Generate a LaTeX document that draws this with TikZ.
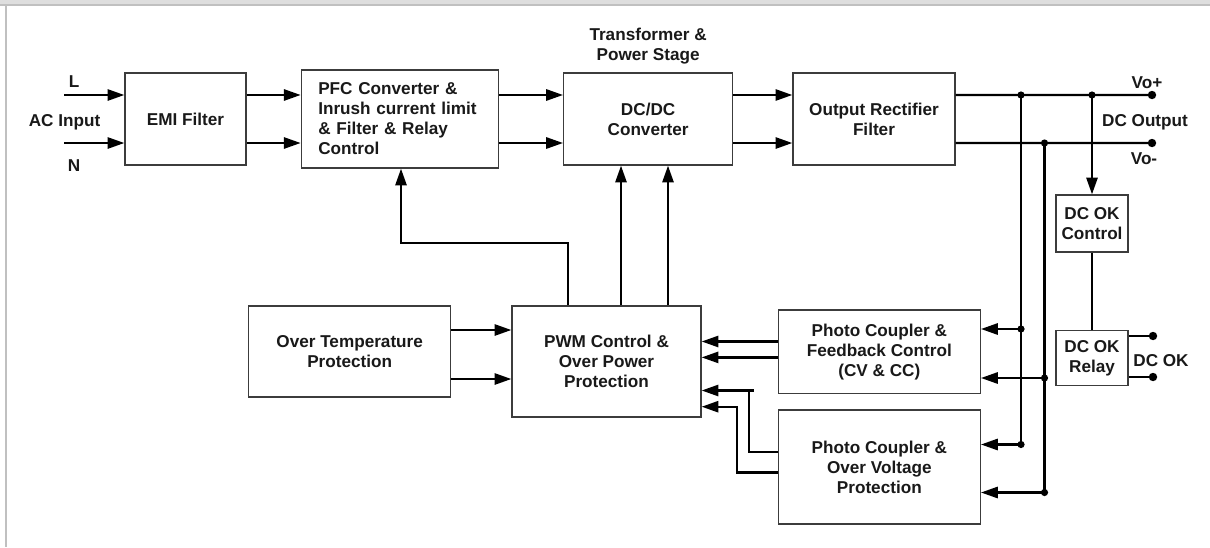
\documentclass[tikz,border=0pt]{standalone}
\usepackage{fontspec}
\setmainfont{Liberation Sans}
\usetikzlibrary{arrows.meta, positioning, calc}
\definecolor{framegray}{RGB}{222, 222, 222}
\definecolor{frameline}{RGB}{192, 192, 192}
\definecolor{boxgray}{RGB}{60, 60, 60}
\definecolor{inktext}{RGB}{25, 25, 25}

\begin{document}
\begin{tikzpicture}[
    x=0.025cm, y=-0.025cm,
    font=\fontsize{12.2}{14.2}\selectfont\bfseries,
    block/.style={
        draw=boxgray, line width=0.9pt, align=center,
        inner sep=0pt, text=inktext
    },
    arrow/.style={-{Triangle[length=0.42cm, width=0.28cm]}, line width=1.6pt},
    wire/.style={line width=1.6pt},
    tag/.style={align=center, text=inktext, inner sep=0pt}
]
\useasboundingbox (0,0) rectangle (1210,547);
\fill[white] (0,0) rectangle (1210,547);

% FRAME
\fill[framegray] (0,0) rectangle (1210,4);
\fill[frameline] (0,4) rectangle (1210,6);
\fill[frameline] (5,6) rectangle (7,547);

% POWER PATH
\node[block, minimum width=3.025cm, minimum height=2.3cm] (emi) at (185.5,119) {EMI Filter};

\node[block, right=1.35cm of emi, minimum height=2.45cm,
      text width=4.075cm, align=left, inner xsep=0.425cm] (pfc) {
    PFC Converter \&\\
    Inrush current limit\\
    \& Filter \& Relay\\
    Control
};

\node[block, right=1.6cm of pfc, minimum width=4.225cm, minimum height=2.3cm] (dcdc) {
    DC/DC\\Converter
};

\node[tag, above=0.2cm of dcdc] (stage) {Transformer \&\\Power Stage};

\node[block, right=1.475cm of dcdc, minimum width=4.05cm, minimum height=2.3cm] (rect) {
    Output Rectifier\\Filter
};

% CONTROL
\node[block, minimum width=4.725cm, minimum height=2.775cm] (pwm) at (606.5,361.5) {
    PWM Control \&\\Over Power\\Protection
};

\node[block, left=1.5cm of pwm.north west, anchor=north east,
      minimum width=5.05cm, minimum height=2.275cm] (ot) {
    Over Temperature\\Protection
};

\node[block, right=1.9cm of pwm.north east, anchor=north west, yshift=-0.1cm,
      minimum width=5.05cm, minimum height=2.09cm] (pcfb) {
    Photo Coupler \&\\Feedback Control\\(CV \& CC)
};

\node[block, below=0.375cm of pcfb, minimum width=5.05cm, minimum height=2.85cm] (ovp) {
    Photo Coupler \&\\Over Voltage\\Protection
};

% DC OK
\node[block, minimum width=1.8cm, minimum height=1.425cm] (okc) at (1092,223.5) {
    DC OK\\Control
};

\node[block, below=1.925cm of okc, minimum width=1.8cm, minimum height=1.375cm] (okr) {
    DC OK\\Relay
};

% LABELS
\node[tag] (lblL) at (74,82) {L};
\node[tag] (lblN) at (74,166) {N};
\node[tag] (lblac) at (64.5,122) {AC Input};
\node[tag] (lblvp) at (1147,83) {Vo+};
\node[tag] (lbldc) at (1145,122) {DC Output};
\node[tag] (lblvn) at (1144,159) {Vo-};
\node[tag] (lblok) at (1161,361) {DC OK};

% COORDINATES ON THE RAILS
\coordinate (lin) at (64,95);
\coordinate (nin) at (64,143);
\coordinate (vop) at (1152,95);
\coordinate (von) at (1152,143);
\coordinate (jp1) at (1021,95);
\coordinate (jp2) at (1092,95);
\coordinate (jn1) at (1044.5,143);
\coordinate (fb1) at (1021,329);
\coordinate (ov1) at (1021,444.5);
\coordinate (fb2) at (1044.5,378);
\coordinate (ov2) at (1044.5,492.5);
\coordinate (okp) at (1153,336);
\coordinate (okn) at (1153,377);

% ARROWS: POWER PATH
\draw[arrow] (lin) -- (lin -| emi.west);
\draw[arrow] (nin) -- (nin -| emi.west);
\draw[arrow] ([yshift=0.6cm]emi.east) -- ([yshift=0.6cm]pfc.west);
\draw[arrow] ([yshift=-0.6cm]emi.east) -- ([yshift=-0.6cm]pfc.west);
\draw[arrow] ([yshift=0.6cm]pfc.east) -- ([yshift=0.6cm]dcdc.west);
\draw[arrow] ([yshift=-0.6cm]pfc.east) -- ([yshift=-0.6cm]dcdc.west);
\draw[arrow] ([yshift=0.6cm]dcdc.east) -- ([yshift=0.6cm]rect.west);
\draw[arrow] ([yshift=-0.6cm]dcdc.east) -- ([yshift=-0.6cm]rect.west);

% OUTPUT RAILS
\draw[wire] ([yshift=0.6cm]rect.east) -- (vop);
\draw[wire] ([yshift=-0.6cm]rect.east) -- (von);
\draw[wire] (jp1) -- (ov1);
\draw[wire] (jn1) -- (ov2);
\draw[arrow] (fb1) -- (fb1 -| pcfb.east);
\draw[arrow] (fb2) -- (fb2 -| pcfb.east);
\draw[arrow] (ov1) -- (ov1 -| ovp.east);
\draw[arrow] (ov2) -- (ov2 -| ovp.east);
\draw[arrow] (jp2) -- (okc.north);
\draw[wire] (okc.south) -- (okr.north);
\draw[wire] (okr.east |- okp) -- (okp);
\draw[wire] (okr.east |- okn) -- (okn);

% ARROWS: FEEDBACK INTO PWM
\draw[arrow] (pcfb.west |- 0,341.5) -- (pwm.east |- 0,341.5);
\draw[arrow] (pcfb.west |- 0,357.4) -- (pwm.east |- 0,357.4);
\draw[wire] (ovp.west |- 0,452.3) -| (749.3,390.5);
\draw[arrow] (753.6,390.5) -- (pwm.east |- 0,390.5);
\draw[arrow] (ovp.west |- 0,472.6) -| (736.8,406.7) -- (pwm.east |- 0,406.7);
\draw[arrow] (ot.east |- 0,330) -- (pwm.west |- 0,330);
\draw[arrow] (ot.east |- 0,379) -- (pwm.west |- 0,379);

% ARROWS: PWM OUT
\draw[arrow] (pwm.north -| 568,0) |- (401,243) -- (pfc.south -| 401,0);
\draw[arrow] (pwm.north -| 621,0) -- (dcdc.south -| 621,0);
\draw[arrow] (pwm.north -| 668,0) -- (dcdc.south -| 668,0);

% DOTS
\foreach \p in {jp1, jp2, jn1, fb1, fb2, ov1, ov2}
    \fill (\p) circle (0.09cm);
\foreach \p in {vop, von, okp, okn}
    \fill (\p) circle (0.105cm);

\end{tikzpicture}
\end{document}
